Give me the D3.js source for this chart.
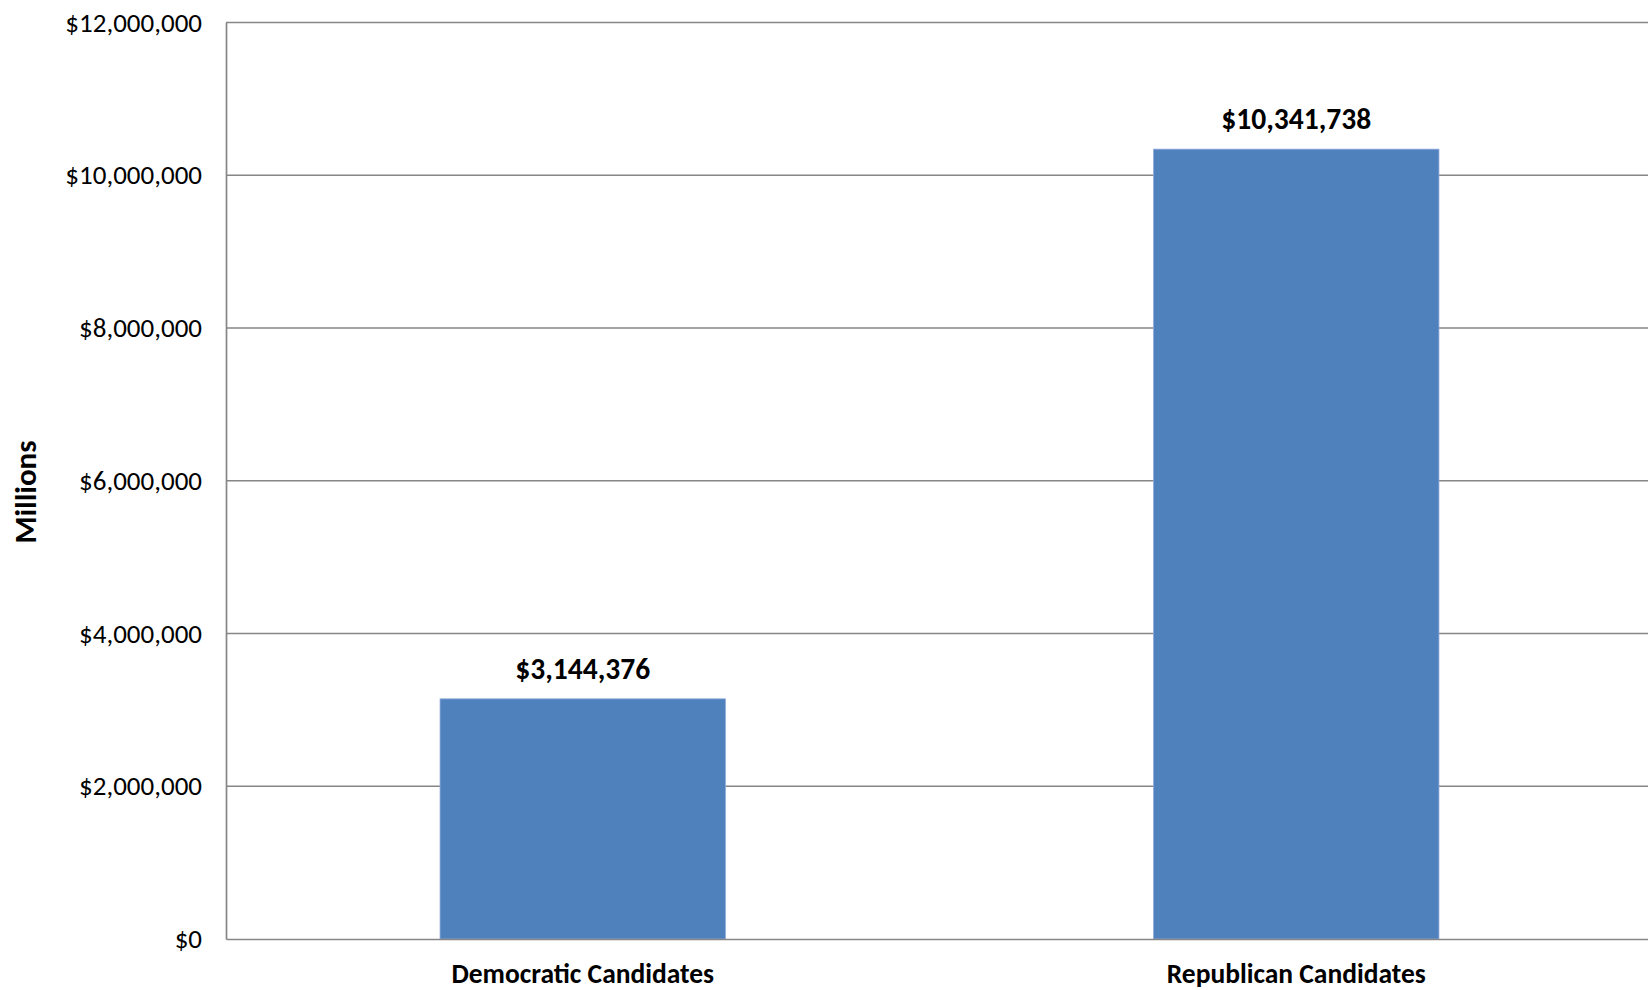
<!DOCTYPE html>
<html>
<head>
<meta charset="utf-8">
<script src="https://cdn.jsdelivr.net/npm/d3@7"></script>
<style>
  html, body { margin: 0; padding: 0; background: #fff; }
  svg { display: block; font-family: Carlito, Calibri, Lato, "Noto Sans", sans-serif; }
</style>
</head>
<body>
<svg id="chart" width="1648" height="990"></svg>
<script>
const categories = ["Democratic Candidates", "Republican Candidates"];
const values = [3144376, 10341738];
const yTicks = [0, 2000000, 4000000, 6000000, 8000000, 10000000, 12000000];
const yTitle = "Millions";

(function () {
const svg = d3.select("#chart");
const pLeft = 226, pRight = 1653, pTop = 22.5, pBottom = 939;

const x = d3.scaleBand().domain(categories).range([pLeft, pRight])
  .paddingInner(0.6).paddingOuter(0.3);
const y = d3.scaleLinear().domain([0, 12000000]).range([pBottom, pTop]);

const money = v => "$" + d3.format(",")(v);

// gridlines
svg.append("g").selectAll("line").data(yTicks.filter(d => d > 0)).join("line")
  .attr("x1", pLeft).attr("x2", pRight)
  .attr("y1", d => y(d)).attr("y2", d => y(d))
  .attr("stroke", "#868686").attr("stroke-width", 1.5);

// y axis
const yAxis = svg.append("g").attr("transform", `translate(${pLeft},0)`)
  .call(d3.axisLeft(y).tickValues(yTicks).tickFormat(money).tickSize(0).tickPadding(24));
yAxis.select(".domain").attr("stroke", "#868686").attr("stroke-width", 1.7);
yAxis.selectAll("text").attr("font-size", 27).attr("fill", "#000")
  .attr("font-family", "Carlito, Calibri, Lato, sans-serif");

// bars
svg.append("g").selectAll("rect").data(values).join("rect")
  .attr("x", (d, i) => x(categories[i]))
  .attr("width", x.bandwidth())
  .attr("y", d => y(d))
  .attr("height", d => y(0) - y(d))
  .attr("fill", "#4F81BD")
  .attr("stroke", "#8FAADC").attr("stroke-width", 0.8);

// x axis
const xAxis = svg.append("g").attr("transform", `translate(0,${pBottom})`)
  .call(d3.axisBottom(x).tickSize(0).tickPadding(0));
xAxis.select(".domain").attr("stroke", "#868686").attr("stroke-width", 1.7);
xAxis.selectAll("text").attr("font-size", 27.5).attr("font-weight", "bold")
  .attr("fill", "#000").attr("dy", null).attr("y", 44)
  .attr("font-family", "Carlito, Calibri, Lato, sans-serif");

// data labels
svg.append("g").selectAll("text").data(values).join("text")
  .attr("x", (d, i) => x(categories[i]) + x.bandwidth() / 2)
  .attr("y", d => y(d) - 20)
  .attr("text-anchor", "middle")
  .attr("font-size", 29.5).attr("font-weight", "bold").attr("fill", "#000")
  .text(d => money(d));

// y title
svg.append("text")
  .attr("transform", "translate(36,492) rotate(-90)")
  .attr("text-anchor", "middle")
  .attr("font-size", 31).attr("font-weight", "bold").attr("fill", "#000")
  .text(yTitle);
})();
</script>
</body>
</html>
